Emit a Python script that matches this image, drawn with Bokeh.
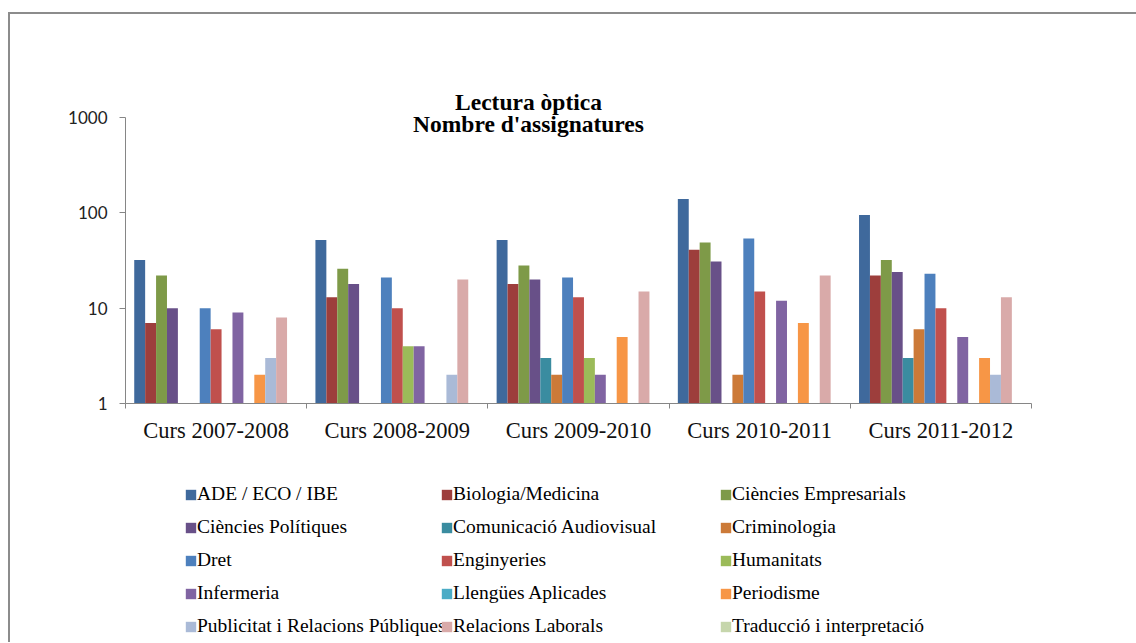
from bokeh.plotting import figure
from bokeh.layouts import column
from bokeh.models import ColumnDataSource, FixedTicker, Legend, LegendItem, Label, Range1d
from bokeh.embed import file_html
from bokeh.resources import INLINE

# ---------------- data ----------------
cursos = ["Curs 2007-2008", "Curs 2008-2009", "Curs 2009-2010", "Curs 2010-2011", "Curs 2011-2012"]

series_names = [
    "ADE / ECO / IBE", "Biologia/Medicina", "Ciències Empresarials",
    "Ciències Polítiques", "Comunicació Audiovisual", "Criminologia",
    "Dret", "Enginyeries", "Humanitats",
    "Infermeria", "Llengües Aplicades", "Periodisme",
    "Publicitat i Relacions Públiques", "Relacions Laborals", "Traducció i interpretació",
]

ade = [32, 52, 52, 140, 95]
biologia = [7, 13, 18, 41, 22]
empresarials = [22, 26, 28, 49, 32]
politiques = [10, 18, 20, 31, 24]
audiovisual = [0, 0, 3, 0, 3]
criminologia = [0, 0, 2, 2, 6]
dret = [10, 21, 21, 54, 23]
enginyeries = [6, 10, 13, 15, 10]
humanitats = [0, 4, 3, 0, 0]
infermeria = [9, 4, 2, 12, 5]
llengues = [0, 0, 0, 0, 0]
periodisme = [2, 0, 5, 7, 3]
publicitat = [3, 2, 0, 0, 2]
laborals = [8, 20, 15, 22, 13]
traduccio = [0, 0, 0, 0, 0]

series_values = [ade, biologia, empresarials, politiques, audiovisual, criminologia,
                 dret, enginyeries, humanitats, infermeria, llengues, periodisme,
                 publicitat, laborals, traduccio]

colors = ["#3F699C", "#9D3E3C", "#7E9A48", "#685088", "#3A8CA0", "#CC7A38",
          "#4D80BD", "#C0504D", "#9BBB59", "#8064A2", "#4BACC6", "#F79646",
          "#AABAD7", "#D9AAA9", "#C6D6AC"]

y_ticks = [1, 10, 100, 1000]
y_tick_labels = ["1", "10", "100", "1000"]

title_lines = ["Lectura òptica", "Nombre d'assignatures"]

W = 1126
H1 = 434
H2 = 194

# ---------------- chart figure ----------------
# frame extends a little above 1000 so that the title can overlap it;
# the y axis line itself is bounded to 1..1000
p = figure(width=W, height=H1,
           x_range=Range1d(0, len(cursos)), y_range=Range1d(1, 10 ** 3.4),
           y_axis_type="log", output_backend="svg", toolbar_location=None,
           min_border_left=115, min_border_right=105, min_border_top=65,
           min_border_bottom=45)
p.background_fill_color = "white"
p.border_fill_color = "white"
p.outline_line_color = None
p.grid.visible = False

n = len(series_names)
w = 1.0 / 16.6
for si, (name, vals, col) in enumerate(zip(series_names, series_values, colors)):
    xs = [ci + 0.5 + (si - (n - 1) / 2) * w for ci in range(len(cursos))]
    tops = [v if v > 0 else float("nan") for v in vals]
    src = ColumnDataSource(dict(x=xs, top=tops))
    p.vbar(x="x", top="top", bottom=1, width=w, source=src,
           fill_color=col, line_color=None)

# x axis: labels at category centres, tick marks at category boundaries
xa = p.xaxis[0]
xa.ticker = FixedTicker(ticks=[i + 0.5 for i in range(len(cursos))],
                        minor_ticks=list(range(len(cursos) + 1)))
xa.major_label_overrides = {i + 0.5: c for i, c in enumerate(cursos)}
xa.major_tick_line_color = None
xa.major_tick_out = 5
xa.major_tick_in = 0
xa.minor_tick_in = 0
xa.minor_tick_out = 5
xa.minor_tick_line_color = "#868686"
xa.axis_line_color = "#868686"
xa.major_label_standoff = 9
xa.major_label_text_font = "Liberation Serif"
xa.major_label_text_font_size = "22.5px"
xa.major_label_text_color = "#111111"

ya = p.yaxis[0]
ya.ticker = FixedTicker(ticks=y_ticks, minor_ticks=[])
ya.major_label_overrides = {t: l for t, l in zip(y_ticks, y_tick_labels)}
ya.bounds = (y_ticks[0], y_ticks[-1])
ya.axis_line_color = "#868686"
ya.major_tick_line_color = "#868686"
ya.major_tick_out = 6
ya.major_tick_in = 0
ya.minor_tick_line_color = None
ya.major_label_standoff = 12
ya.major_label_text_font = "Lato"
ya.major_label_text_font_size = "17px"
ya.major_label_text_color = "#222222"

# title: two centred lines overlapping the top of the bar area
for txt, yy in zip(title_lines, [302, 280]):
    p.add_layout(Label(x=403, y=yy, x_units="screen", y_units="screen", text=txt,
                       text_align="center", text_baseline="alphabetic",
                       text_font="Liberation Serif", text_font_style="bold",
                       text_font_size="23.5px", text_color="black"))

# ---------------- legend figure ----------------
q = figure(width=W, height=H2, x_range=Range1d(0, 1), y_range=Range1d(0, 1),
           output_backend="svg", toolbar_location=None,
           min_border_left=0, min_border_right=0, min_border_top=0, min_border_bottom=0)
q.axis.visible = False
q.grid.visible = False
q.outline_line_color = None
q.background_fill_color = "white"
q.border_fill_color = "white"

items = []
for name, col in zip(series_names, colors):
    r = q.vbar(x=[float("nan")], top=[float("nan")], bottom=0, width=0.1,
               fill_color=col, line_color=None)
    items.append(LegendItem(label=name, renderers=[r]))

col_x = [59, 315, 594]
for c, vx in enumerate(col_x):
    lg = Legend(items=items[c::3], location=(vx, 5), orientation="vertical",
                padding=0, margin=0, spacing=11, label_standoff=0,
                glyph_width=13, glyph_height=13, label_height=20,
                label_text_font="Liberation Serif", label_text_font_size="19.5px",
                label_text_color="black", border_line_color=None,
                background_fill_alpha=0)
    q.add_layout(lg, "center")

layout = column(p, q, spacing=0)
layout.styles = {"margin-top": "12px", "margin-left": "8px",
                 "border-top": "2px solid #8c8c8c", "border-left": "2px solid #8c8c8c"}

open("out.html", "w").write(file_html(layout, INLINE))
